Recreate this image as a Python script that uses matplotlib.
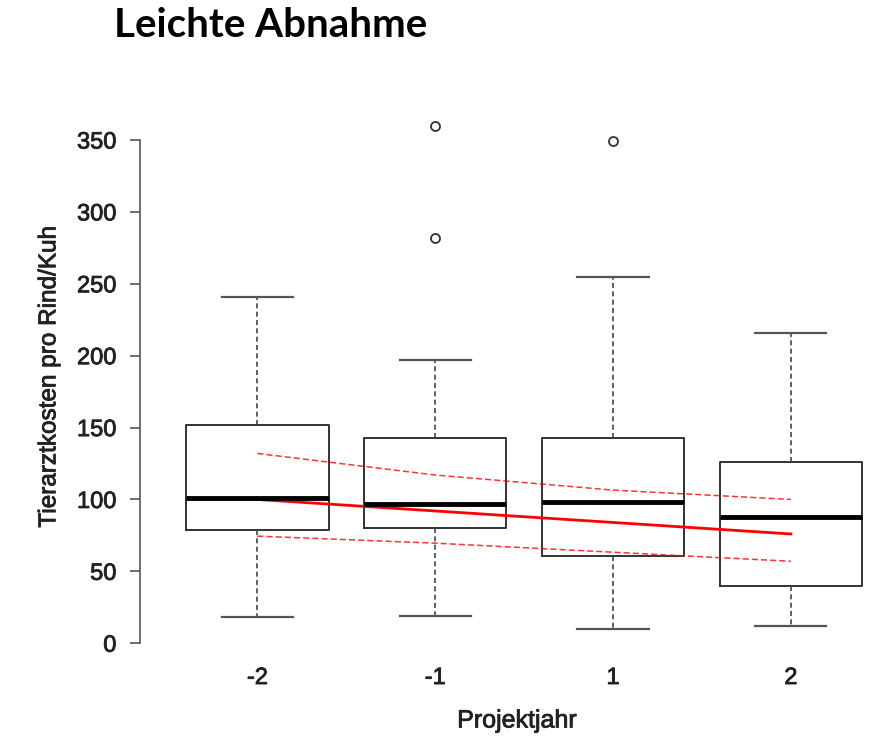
import matplotlib.pyplot as plt
import matplotlib.ticker as mticker
import matplotlib.patheffects as pe

# Projektjahr groups and box statistics
years = ['-2', '-1', '1', '2']
whisker_low = [18, 19, 10, 12]
q1 = [79, 80, 61, 40]
median = [101, 97, 98, 88]
q3 = [152, 143, 143, 126]
whisker_high = [241, 197, 255, 216]
outliers = [[], [282, 360], [349], []]

# regression fit and confidence band (at the group positions)
fit = [100, 92, 84, 76]
ci_upper = [132, 117, 106.5, 100]
ci_lower = [74.5, 69.6, 63.3, 57]

positions = list(range(1, len(years) + 1))

stats = []
for i, lab in enumerate(years):
    stats.append(dict(label=lab, whislo=whisker_low[i], q1=q1[i], med=median[i],
                      q3=q3[i], whishi=whisker_high[i], fliers=outliers[i]))

fig = plt.figure(figsize=(8.94, 7.5), dpi=100)
ax = fig.add_axes([0.1566, 0.1347, 0.8434, 0.7246])

ax.bxp(
    stats,
    positions=positions,
    widths=0.8,
    showfliers=True,
    boxprops=dict(color='#333333', linewidth=1.4),
    medianprops=dict(color='black', linewidth=3.5, solid_capstyle='butt'),
    whiskerprops=dict(color='#444444', linewidth=1.2, linestyle=(0, (3, 2))),
    capprops=dict(color='#555555', linewidth=1.6),
    capwidths=0.4,
    flierprops=dict(marker='o', markersize=6.5, markerfacecolor='none',
                    markeredgecolor='#333333', markeredgewidth=1.3),
)

ax.plot(positions, fit, color='red', linewidth=2)
ax.plot(positions, ci_upper, color='red', linewidth=1.1, linestyle=(0, (4, 2)), alpha=0.8)
ax.plot(positions, ci_lower, color='red', linewidth=1.1, linestyle=(0, (4, 2)), alpha=0.8)

ax.set_xlim(0.34, 4.58)
ax.set_ylim(-4, 374)

for s in ['top', 'right', 'bottom']:
    ax.spines[s].set_visible(False)
ax.spines['left'].set_bounds(0, 350)
ax.spines['left'].set_color('#555555')
ax.spines['left'].set_linewidth(1.2)

heavy = [pe.withStroke(linewidth=0.6, foreground='#222222')]

ax.yaxis.set_major_locator(mticker.MultipleLocator(50))
ax.tick_params(axis='y', length=7, width=1.2, color='#555555', pad=10,
               labelsize=17, labelcolor='#222222')
ax.tick_params(axis='x', length=0, pad=13, labelsize=17, labelcolor='#222222')
ax.set_xticks(positions)
ax.set_xticklabels(years)
for t in ax.get_xticklabels() + ax.get_yticklabels():
    t.set_family('Liberation Sans')
    t.set_path_effects(heavy)

ax.set_ylabel('Tierarztkosten pro Rind/Kuh', fontsize=17.5, family='Liberation Sans',
              color='#222222', labelpad=12, path_effects=heavy)
ax.set_xlabel('Projektjahr', fontsize=18, family='Liberation Sans',
              color='#222222', labelpad=14, path_effects=heavy)

fig.text(0.127, 0.951, 'Leichte Abnahme', fontsize=29, fontweight='bold',
         family='Lato', va='baseline', ha='left')

fig.savefig('out.png', dpi=100)
